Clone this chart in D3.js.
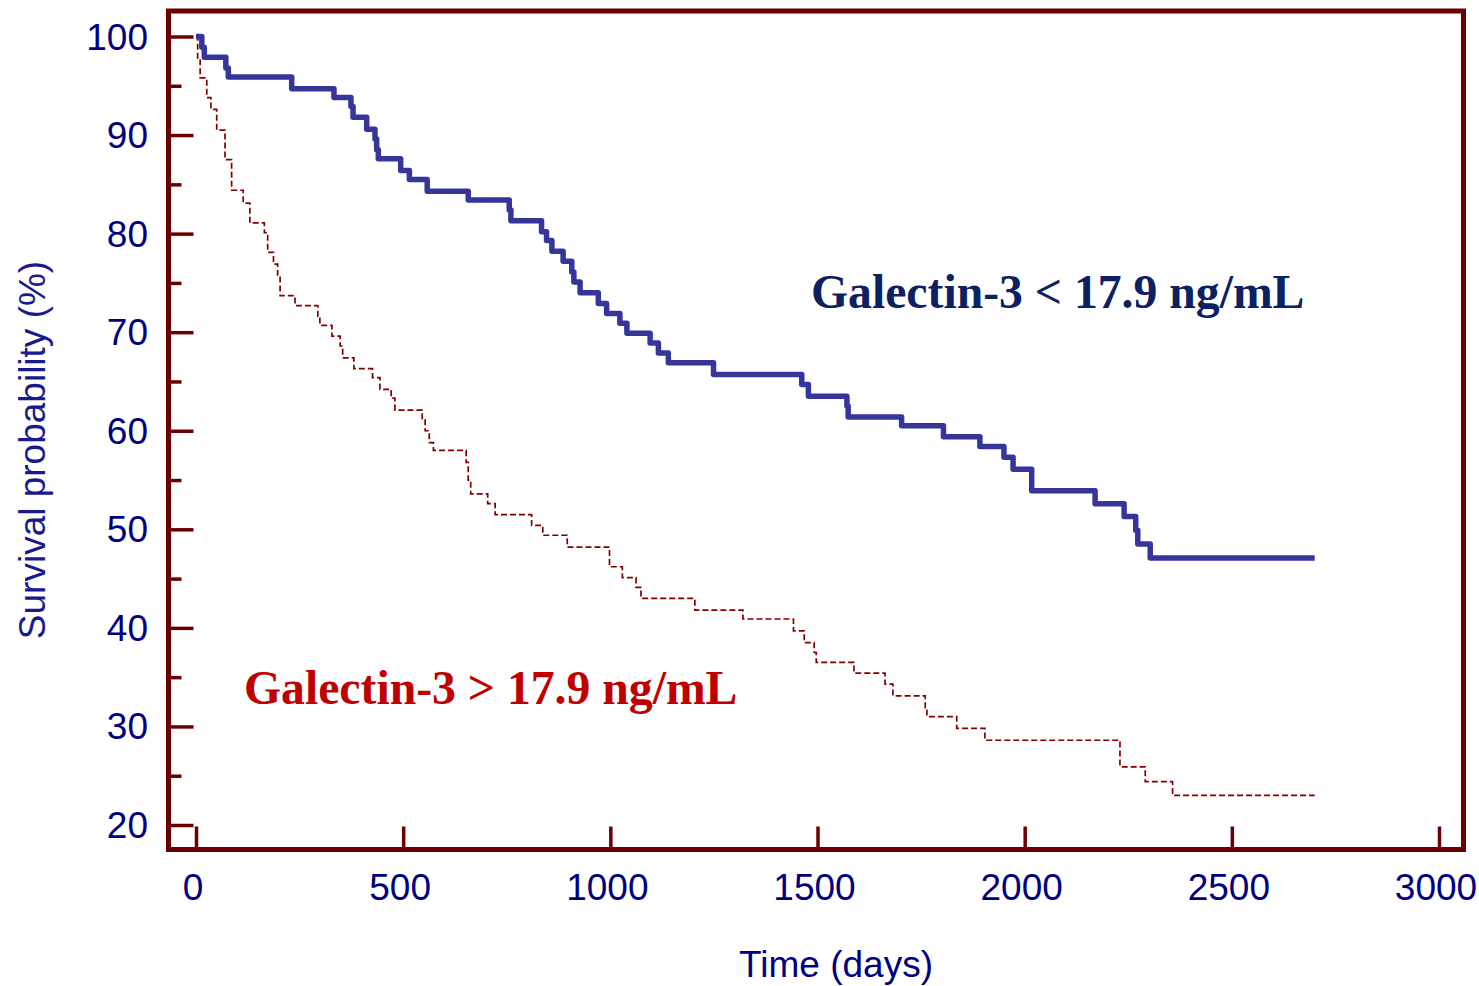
<!DOCTYPE html>
<html>
<head>
<meta charset="utf-8">
<script src="https://cdn.jsdelivr.net/npm/d3@7"></script>
<style>
  html, body { margin: 0; padding: 0; background: #ffffff; }
  svg { display: block; }
</style>
</head>
<body>
<svg id="chart" width="1479" height="986"></svg>
<script>
// Kaplan-Meier survival, low galectin-3 group (solid line)
const lowTimes = [0, 14, 20, 72, 78, 231, 333, 374, 379, 412, 432, 436, 440, 494, 515, 558, 657, 756, 760, 834,
  846, 859, 886, 907, 912, 927, 971, 991, 1023, 1040, 1096, 1116, 1140, 1249, 1462, 1478, 1571, 1574, 1703, 1804,
  1892, 1950, 1972, 2017, 2170, 2240, 2268, 2273, 2303, 2700];
const lowSurvival = [100, 98.9, 97.9, 96.8, 95.9, 94.7, 93.8, 92.9, 91.8, 90.6, 89.6, 88.5, 87.6, 86.4, 85.5, 84.3, 83.4, 82.4, 81.3, 80.2,
  79.3, 78.2, 77.2, 76.1, 75.1, 74.0, 72.9, 71.9, 70.9, 69.9, 68.9, 67.9, 66.9, 65.7, 64.7, 63.5, 62.5, 61.4, 60.5, 59.4,
  58.4, 57.3, 56.1, 53.9, 52.6, 51.3, 49.9, 48.5, 47.1, 47.1];

// Kaplan-Meier survival, high galectin-3 group (dashed line)
const highTimes = [0, 4, 10, 26, 36, 50, 70, 86, 114, 130, 165, 173, 187, 197, 203, 239, 294, 299, 328, 348,
  354, 381, 426, 444, 471, 480, 546, 553, 563, 573, 652, 657, 663, 704, 722, 810, 837, 896, 998, 1029,
  1062, 1074, 1204, 1320, 1442, 1468, 1492, 1497, 1588, 1663, 1682, 1760, 1764, 1836, 1904, 2230, 2291, 2357, 2700];
const highSurvival = [100, 97.8, 95.8, 93.8, 92.6, 90.5, 87.5, 84.4, 83.1, 81.1, 80.1, 78.1, 76.9, 75.8, 73.7, 72.7, 71.6, 70.7, 69.6, 68.6,
  67.4, 66.3, 65.4, 64.2, 63.3, 62.1, 61.1, 60.0, 58.8, 58.0, 56.8, 55.0, 53.6, 52.6, 51.5, 50.4, 49.4, 48.2, 46.2, 45.1,
  44.1, 43.0, 41.8, 40.9, 39.7, 38.5, 37.5, 36.5, 35.4, 34.3, 33.1, 31.9, 31.0, 29.8, 28.6, 25.9, 24.4, 23.0, 23.0];

const xTicks = [0, 500, 1000, 1500, 2000, 2500, 3000];
const yMajorTicks = [20, 30, 40, 50, 60, 70, 80, 90, 100];
const yMinorTicks = [25, 35, 45, 55, 65, 75, 85, 95];

const lowLabel = "Galectin-3 < 17.9 ng/mL";
const highLabel = "Galectin-3 > 17.9 ng/mL";
const xTitle = "Time (days)";
const yTitle = "Survival probability (%)";

const svg = d3.select("#chart");
const frameColor = "#6b0000";
const axisText = "#000080";
const sansFont = "Liberation Sans, Arial, sans-serif";
const serifFont = "Liberation Serif, Times New Roman, serif";

const x = d3.scaleLinear().domain([0, 3000]).range([196, 1439]);
const y = d3.scaleLinear().domain([20, 100]).range([825, 36.5]);

const frame = { left: 168.5, top: 11, right: 1463.5, bottom: 849.5 };

// plot frame
svg.append("rect")
  .attr("x", frame.left).attr("y", frame.top)
  .attr("width", frame.right - frame.left)
  .attr("height", frame.bottom - frame.top)
  .attr("fill", "none")
  .attr("stroke", frameColor)
  .attr("stroke-width", 5);

// y axis: ticks point inward from the left edge
const yAxis = d3.axisRight(y).tickValues(yMajorTicks).tickSize(25).tickFormat("");
const gy = svg.append("g").attr("transform", `translate(${frame.left},0)`).call(yAxis);
gy.select(".domain").remove();
gy.selectAll(".tick line").attr("stroke", frameColor).attr("stroke-width", 3.5);

const yMinor = d3.axisRight(y).tickValues(yMinorTicks).tickSize(13).tickFormat("");
const gym = svg.append("g").attr("transform", `translate(${frame.left},0)`).call(yMinor);
gym.select(".domain").remove();
gym.selectAll(".tick line").attr("stroke", frameColor).attr("stroke-width", 3.5);

// y tick labels, outside the frame
svg.append("g").selectAll("text").data(yMajorTicks).join("text")
  .attr("x", 148)
  .attr("y", d => y(d) + 13)
  .attr("text-anchor", "end")
  .attr("font-family", sansFont)
  .attr("font-size", 37)
  .attr("fill", axisText)
  .text(d => d);

// x axis: ticks point upward from the bottom edge
const xAxis = d3.axisTop(x).tickValues(xTicks).tickSize(23).tickFormat("");
const gx = svg.append("g").attr("transform", `translate(0,${frame.bottom})`).call(xAxis);
gx.select(".domain").remove();
gx.selectAll(".tick line").attr("stroke", frameColor).attr("stroke-width", 3.5);

svg.append("g").selectAll("text").data(xTicks).join("text")
  .attr("x", d => x(d) - 3)
  .attr("y", 900)
  .attr("text-anchor", "middle")
  .attr("font-family", sansFont)
  .attr("font-size", 37)
  .attr("fill", axisText)
  .text(d => d);

// axis titles
svg.append("text")
  .attr("x", 836).attr("y", 977)
  .attr("text-anchor", "middle")
  .attr("font-family", sansFont)
  .attr("font-size", 37)
  .attr("fill", axisText)
  .text(xTitle);

svg.append("text")
  .attr("transform", "translate(45,450) rotate(-90)")
  .attr("text-anchor", "middle")
  .attr("font-family", sansFont)
  .attr("font-size", 37)
  .attr("fill", "#1a1a8f")
  .text(yTitle);

// survival curves
const step = d3.line()
  .x(d => x(d[0]))
  .y(d => y(d[1]))
  .curve(d3.curveStepAfter);

svg.append("path")
  .datum(d3.zip(highTimes, highSurvival))
  .attr("d", step)
  .attr("fill", "none")
  .attr("stroke", "#800000")
  .attr("stroke-width", 1.7)
  .attr("stroke-dasharray", "6,3");

svg.append("path")
  .datum(d3.zip(lowTimes, lowSurvival))
  .attr("d", step)
  .attr("fill", "none")
  .attr("stroke", "#35359c")
  .attr("stroke-width", 5.5)
  .attr("stroke-linejoin", "round");

// group labels
svg.append("text")
  .attr("x", 811).attr("y", 308)
  .attr("font-family", serifFont)
  .attr("font-weight", "bold")
  .attr("font-size", 47.7)
  .attr("fill", "#0b2162")
  .text(lowLabel);

svg.append("text")
  .attr("x", 244).attr("y", 704)
  .attr("font-family", serifFont)
  .attr("font-weight", "bold")
  .attr("font-size", 47.7)
  .attr("fill", "#c00000")
  .text(highLabel);
</script>
</body>
</html>
